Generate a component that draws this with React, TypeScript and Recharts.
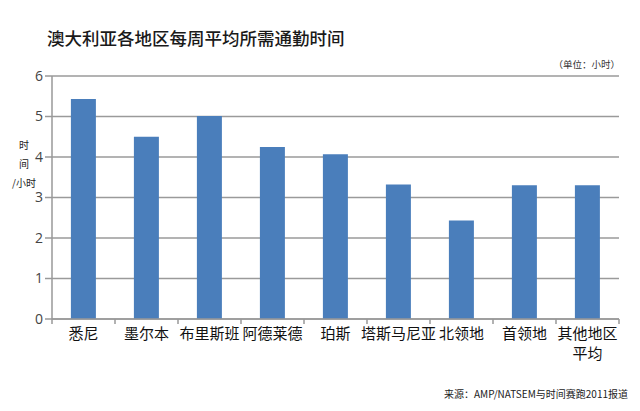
import React from 'react';
import { BarChart, Bar, XAxis, YAxis, CartesianGrid } from 'recharts';

const regions = ['悉尼', '墨尔本', '布里斯班', '阿德莱德', '珀斯', '塔斯马尼亚', '北领地', '首领地', '其他地区\n平均'];
const hours = [5.43, 4.5, 5.01, 4.25, 4.07, 3.32, 2.43, 3.3, 3.3];
const yTicks = [0, 1, 2, 3, 4, 5, 6];

const titleText = '澳大利亚各地区每周平均所需通勤时间';
const unitText = '（单位：小时）';
const yLabelLines = ['时', '间', '/小时'];
const sourceText = '来源：AMP/NATSEM与时间赛跑2011报道';

const data = regions.map((r, i) => ({ region: r, hours: hours[i] }));

const FONT = '"Noto Sans CJK SC", "Noto Sans", sans-serif';

const XTick = (props: any) => {
  const { x, y, payload, index } = props;
  const off = payload && payload.offset != null ? payload.offset : 31.5;
  const lines = String(payload.value).split('\n');
  const isLast = index === regions.length - 1;
  const axisY = y - 8;
  return (
    <g>
      <line x1={x - off} x2={x - off} y1={axisY} y2={axisY + 5} stroke="#999" strokeWidth={1.5} />
      {isLast && <line x1={x + off} x2={x + off} y1={axisY} y2={axisY + 5} stroke="#999" strokeWidth={1.5} />}
      {lines.map((l, i) => (
        <text key={i} x={x} y={axisY + 20 + i * 20} textAnchor="middle" fontSize={15} fill="#111" fontFamily={FONT}>
          {l}
        </text>
      ))}
    </g>
  );
};

export default function App() {
  return (
    <div style={{ position: 'absolute', left: 0, top: 0, width: 640, height: 411, background: '#fff', fontFamily: FONT }}>
      <div style={{ position: 'absolute', left: 47, top: 27, fontSize: 17.5, fontWeight: 500, color: '#1a1a1a', whiteSpace: 'nowrap', lineHeight: '22px' }}>
        {titleText}
      </div>
      <div style={{ position: 'absolute', right: 20, top: 57, fontSize: 9.5, color: '#333', whiteSpace: 'nowrap', lineHeight: '14px' }}>
        {unitText}
      </div>
      <div style={{ position: 'absolute', left: 12, top: 135, fontSize: 10, color: '#222', lineHeight: '19px' }}>
        {yLabelLines.map((l, i) => (
          <div key={i} style={{ paddingLeft: i < 2 ? 7 : 0 }}>{l}</div>
        ))}
      </div>
      <div style={{ position: 'absolute', right: 12, top: 387, fontSize: 10, color: '#222', whiteSpace: 'nowrap', lineHeight: '14px' }}>
        {sourceText}
      </div>
      <BarChart
        width={640}
        height={411}
        data={data}
        margin={{ top: 76, right: 21, bottom: 40, left: 0 }}
        barCategoryGap="30%"
      >
        <CartesianGrid vertical={false} stroke="#9a9a9a" strokeWidth={1.5} />
        <XAxis
          dataKey="region"
          height={52}
          interval={0}
          tickLine={false}
          axisLine={{ stroke: '#999', strokeWidth: 1.5 }}
          tick={<XTick />}
        />
        <YAxis
          width={52}
          domain={[0, 6]}
          ticks={yTicks}
          interval={0}
          tickSize={7}
          tickMargin={2}
          tickLine={{ stroke: '#999', strokeWidth: 1.5 }}
          axisLine={{ stroke: '#999', strokeWidth: 1.5 }}
          tick={{ fontSize: 14, fill: '#444', fontFamily: '"Open Sans", sans-serif' }}
        />
        <Bar dataKey="hours" fill="#4a7ebb" isAnimationActive={false} />
      </BarChart>
    </div>
  );
}
